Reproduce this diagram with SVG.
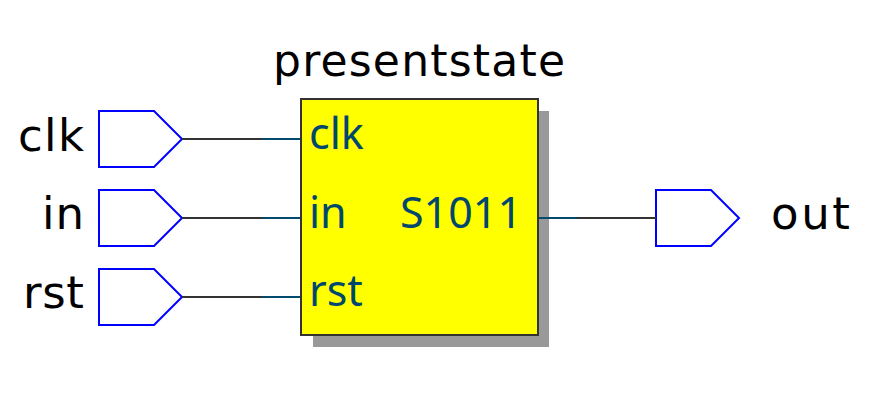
<svg xmlns="http://www.w3.org/2000/svg" width="874" height="403" viewBox="0 0 874 403">
<style>
.port{fill:#ffffff;stroke:#0000ff;stroke-width:2}
.lbl{font-family:"DejaVu Sans",sans-serif;font-size:45px;fill:#000000}
.ttl{font-family:"DejaVu Sans",sans-serif;font-size:44px;fill:#000000}
.pin{font-family:"Noto Sans",sans-serif;font-size:43px;fill:#00476e}
.wg{stroke:#333333;stroke-width:2;fill:none}
.wb{stroke:#004a6e;stroke-width:2;fill:none}
</style>
<rect width="874" height="403" fill="#ffffff"/>
<g id="port-clk">
<polygon class="port" points="99,111 154,111 182,139 154,167 99,167"/>
<text class="lbl" x="84" y="151" text-anchor="end" textLength="66" lengthAdjust="spacing">clk</text>
</g>
<g id="port-in">
<polygon class="port" points="99,190 154,190 182,218 154,246 99,246"/>
<text class="lbl" x="84" y="228.5" text-anchor="end" textLength="42" lengthAdjust="spacing">in</text>
</g>
<g id="port-rst">
<polygon class="port" points="99,269 154,269 182,297 154,325 99,325"/>
<text class="lbl" x="84" y="308" text-anchor="end" textLength="61" lengthAdjust="spacing">rst</text>
</g>
<g id="port-out">
<polygon class="port" points="656,190 711,190 739,218 711,246 656,246"/>
<text class="lbl" x="771" y="228.5" textLength="79" lengthAdjust="spacing">out</text>
</g>
<g id="presentstate">
<text class="ttl" x="273" y="76" textLength="292" lengthAdjust="spacing">presentstate</text>
<rect x="313" y="111" width="236" height="236" fill="#999999"/>
<rect x="301" y="99" width="237" height="236" fill="#ffff00" stroke="#333333" stroke-width="2"/>
<text class="pin" x="309" y="148.5">clk</text>
<text class="pin" x="309" y="228">in</text>
<text class="pin" x="309" y="306">rst</text>
<text class="pin" x="400" y="228">S1011</text>
</g>
<g id="connectors">
<line class="wg" x1="182" y1="139" x2="262" y2="139"/>
<line class="wb" x1="262" y1="139" x2="300" y2="139"/>
<line class="wg" x1="182" y1="218" x2="262" y2="218"/>
<line class="wb" x1="262" y1="218" x2="300" y2="218"/>
<line class="wg" x1="182" y1="297" x2="262" y2="297"/>
<line class="wb" x1="262" y1="297" x2="300" y2="297"/>
<line class="wb" x1="539" y1="218" x2="577" y2="218"/>
<line class="wg" x1="577" y1="218" x2="656" y2="218"/>
</g>
</svg>
